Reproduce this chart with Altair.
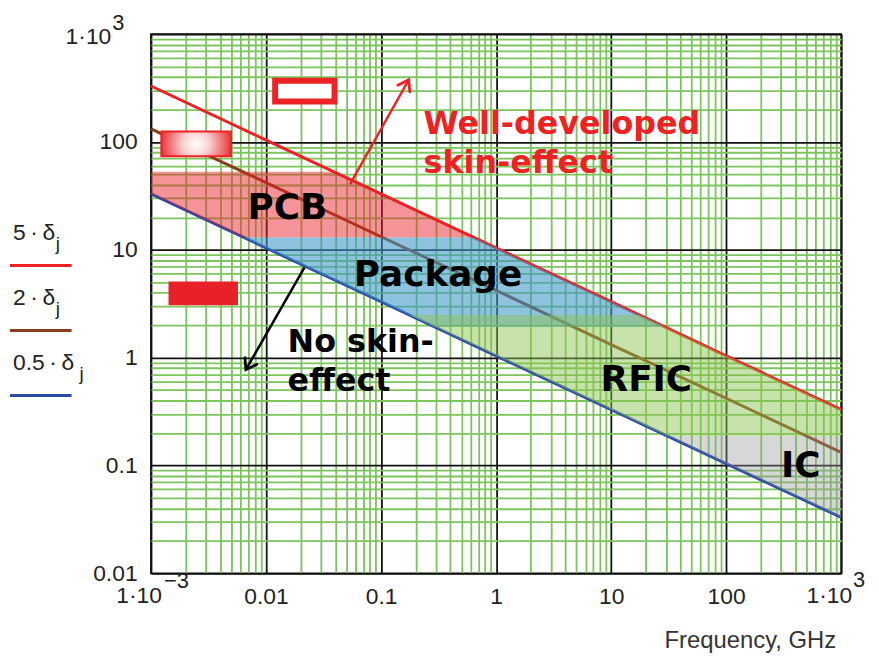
import math
import altair as alt
import numpy as np
import pandas as pd

# ---------------- data ----------------
freq = [0.001, 0.01, 0.1, 1, 10, 100, 1000]          # GHz
depth_5 = [330, 104, 33, 10.4, 3.3, 1.04, 0.33]       # 5*delta_j
depth_2 = [132, 42, 13.2, 4.2, 1.32, 0.42, 0.132]     # 2*delta_j
depth_05 = [33, 10.4, 3.3, 1.04, 0.33, 0.104, 0.033]  # 0.5*delta_j
series_names = ["5·δj", "2·δj", "0.5·δj"]

band_names = ["PCB", "Package", "RFIC", "IC"]
band_low = [13, 1.92, 0.187, 0.03]
band_high = [53, 13, 2.48, 0.187]

# annotation anchors (data units: GHz, value)
region_text = ["PCB", "Package", "RFIC", "IC"]
region_text_f = [0.0069, 0.058, 8.1, 300]
region_text_v = [24.5, 5.8, 0.625, 0.099]

red_text = ["Well-developed", "skin-effect"]
red_text_f = [0.234, 0.234]
red_text_v = [145, 63.5]

black_text = ["No skin-", "effect"]
black_text_f = [0.0154, 0.0154]
black_text_v = [1.40, 0.611]

box_f = [0.0120, 0.0394]; box_v = [237, 369]          # outlined box
grad_f = [0.00123, 0.00495]; grad_v = [73.6, 125]     # gradient box
solid_f = [0.00142, 0.0057]; solid_v = [3.06, 5.09]   # solid box

arrow_up = [(0.0538, 40.7), (0.174, 377)]
arrow_down = [(0.0216, 6.86), (0.00668, 0.773)]

# ---------------- styles ----------------
W, H = 695, 543
line_colors = ["#ec2224", "#8a3d1c", "#2b4aa6"]
band_fill = ["rgba(232,32,40,0.48)", "rgba(60,150,200,0.58)",
             "rgba(140,195,80,0.48)", "rgba(150,150,150,0.38)"]
GREEN = "#7cc45c"
LABEL_FONT = "Liberation Sans"
ANN_FONT = "DejaVu Sans"
FS = 23

x_ticks = sorted(set([m * 10.0 ** e for e in range(-3, 3) for m in range(1, 10)] + [1000.0]))
y_ticks = sorted(set([m * 10.0 ** e for e in range(-2, 3) for m in range(1, 10)] + [1000.0]))
major_test = "abs(log(datum.value)/LN10 - round(log(datum.value)/LN10)) < 1e-6"

xscale = alt.Scale(type="log", domain=[0.001, 1000], nice=False)
yscale = alt.Scale(type="log", domain=[0.01, 1000], nice=False)

grid_color = {"condition": {"test": major_test, "value": "#111111"}, "value": GREEN}

x_axis = alt.Axis(
    values=x_ticks, title=None, ticks=False, domain=False, grid=True,
    gridColor=grid_color, gridWidth=1.8, gridOpacity=1,
    labelExpr="(datum.value < 0.0015 || datum.value > 999) ? '' : ("
              + major_test + " ? format(datum.value, '~g') : '')",
    labelFont=LABEL_FONT, labelFontSize=FS, labelColor="#222", labelPadding=12,
    labelOverlap=False, labelFlush=False,
)
y_axis = alt.Axis(
    values=y_ticks, title=None, ticks=False, domain=False, grid=True,
    gridColor=grid_color, gridWidth=1.8, gridOpacity=1,
    labelExpr="datum.value > 999 ? '' : (" + major_test + " ? format(datum.value, '~g') : '')",
    labelFont=LABEL_FONT, labelFontSize=FS, labelColor="#222", labelPadding=14,
    labelOverlap=False, labelFlush=False,
)

# ---------------- tables ----------------
lines_df = pd.DataFrame({
    "f": freq * 3,
    "v": depth_5 + depth_2 + depth_05,
    "s": [series_names[0]] * 7 + [series_names[1]] * 7 + [series_names[2]] * 7,
})

lf = np.log10(freq)


def at(series, f):
    return 10 ** np.interp(np.log10(f), lf, np.log10(series))


def where(series, v):
    ls = np.log10(series)[::-1]
    return 10 ** np.interp(np.log10(v), ls, lf[::-1])


rows = []
for name, lo, hi in zip(band_names, band_low, band_high):
    xs = {freq[0], freq[-1]}
    for s in (depth_05, depth_5):
        for v in (lo, hi):
            if min(s) <= v <= max(s):
                xs.add(float(where(s, v)))
    for f in sorted(xs):
        ylo = max(lo, float(at(depth_05, f)))
        yhi = min(hi, float(at(depth_5, f)))
        if ylo <= yhi * (1 + 1e-9):
            rows.append({"band": name, "f": f, "v": ylo, "hi": max(ylo, yhi)})
band_df = pd.DataFrame(rows)

X = alt.X("f:Q", scale=xscale, axis=x_axis)
Y = alt.Y("v:Q", scale=yscale, axis=y_axis)

lines = alt.Chart(lines_df).mark_line(strokeWidth=3).encode(
    x=X, y=Y,
    color=alt.Color("s:N", scale=alt.Scale(domain=series_names, range=line_colors), legend=None),
)

bands = alt.Chart(band_df).mark_area(opacity=1).encode(
    x=X, y=Y, y2="hi:Q",
    fill=alt.Fill("band:N", scale=alt.Scale(domain=band_names, range=band_fill), legend=None),
)


def rect_df(fs, vs):
    return pd.DataFrame({"f": [fs[0]], "f2": [fs[1]], "v": [vs[0]], "v2": [vs[1]]})


box = alt.Chart(rect_df(box_f, box_v)).mark_rect(
    fill="white", stroke="#ec2224", strokeWidth=6).encode(x=X, x2="f2:Q", y=Y, y2="v2:Q")

grad = alt.Chart(rect_df(grad_f, grad_v)).mark_rect(
    fill=alt.RadialGradient(gradient="radial", x1=0.5, y1=0.5, r1=0, x2=0.5, y2=0.5, r2=0.55,
                            stops=[alt.GradientStop(offset=0, color="#ffffff"),
                                   alt.GradientStop(offset=0.35, color="#f8d0d0"),
                                   alt.GradientStop(offset=1, color="#e82028")]),
    stroke="#ec2224", strokeWidth=2).encode(x=X, x2="f2:Q", y=Y, y2="v2:Q")

solid = alt.Chart(rect_df(solid_f, solid_v)).mark_rect(
    fill="#e82028").encode(x=X, x2="f2:Q", y=Y, y2="v2:Q")


def arrow(pts, color):
    (f1, v1), (f2, v2) = pts
    dx = (math.log10(f2) - math.log10(f1)) * W / 6
    dy = -(math.log10(v2) - math.log10(v1)) * H / 5
    ang = math.degrees(math.atan2(dx, -dy)) % 360
    shaft = alt.Chart(pd.DataFrame({"f": [f1], "v": [v1], "f2": [f2], "v2": [v2]})).mark_rule(
        color=color, strokeWidth=2.5).encode(x=X, y=Y, x2="f2:Q", y2="v2:Q")
    head = alt.Chart(pd.DataFrame({"f": [f2], "v": [v2]})).mark_point(
        shape="M -0.75 1.1 L 0 0 L 0.75 1.1", filled=False, stroke=color, strokeWidth=2.8,
        size=340, angle=ang, opacity=1, strokeCap="round").encode(x=X, y=Y)
    return shaft + head


def texts(labels, fs, vs, color, size):
    df = pd.DataFrame({"t": labels, "f": fs, "v": vs})
    return alt.Chart(df).mark_text(align="left", baseline="middle", font=ANN_FONT, fontWeight="bold",
                                   fontSize=size, color=color).encode(x=X, y=Y, text="t:N")


region_labels = texts(region_text, region_text_f, region_text_v, "#000000", 36)
red_labels = texts(red_text, red_text_f, red_text_v, "#ec2224", 32)
black_labels = texts(black_text, black_text_f, black_text_v, "#000000", 32)

# ---------------- text outside the plot (pixel placed) ----------------
one = pd.DataFrame({"a": [0]})
X0, Y0 = 152, 32


def ptext(txt, px, py, size, align="left", color="#222"):
    return alt.Chart(one).mark_text(align=align, baseline="middle", font=LABEL_FONT,
                                    fontSize=size, color=color, text=txt).encode(
        x=alt.value(px - X0), y=alt.value(py - Y0))


outside = [
    # end tick labels with raised exponents
    ptext("1·10", 112, 35, FS, align="right"),
    ptext("3", 113, 21, 22),
    ptext("1·10", 140, 598, FS, align="center"),
    ptext("\u22123", 165, 583, 22),
    ptext("1·10", 835, 598, FS, align="center"),
    ptext("3", 859, 582, 22),
    ptext("Frequency, GHz", 842, 643, 24, align="right", color="#333"),
]

TS = "\u2009"
leg_main = ["5" + TS + "·" + TS + "δ", "2" + TS + "·" + TS + "δ", "0.5" + TS + "·" + TS + "δ"]
leg_j_x = [56, 56, 80]
for i, (lab, c) in enumerate(zip(leg_main, line_colors)):
    ty = 232 + i * 65.5
    outside.append(ptext(lab, 13, ty, FS))
    outside.append(ptext("j", leg_j_x[i], ty + 11, 19))
    outside.append(alt.Chart(one).mark_rule(color=c, strokeWidth=3).encode(
        x=alt.value(10 - X0), x2=alt.value(72 - X0), y=alt.value(ty + 33 - Y0)))

chart = alt.layer(
    lines, bands, box, grad, solid,
    arrow(arrow_up, "#ec2224"), arrow(arrow_down, "#000000"),
    region_labels, red_labels, black_labels, *outside,
).properties(
    width=W, height=H,
    autosize=alt.AutoSizeParams(type="none"),
    padding={"left": 144, "top": 24, "right": 30, "bottom": 80},
    background="white",
).configure_view(stroke="#111111", strokeWidth=1.8)

chart.save("out.html", embed_options={"renderer": "svg", "actions": False})
